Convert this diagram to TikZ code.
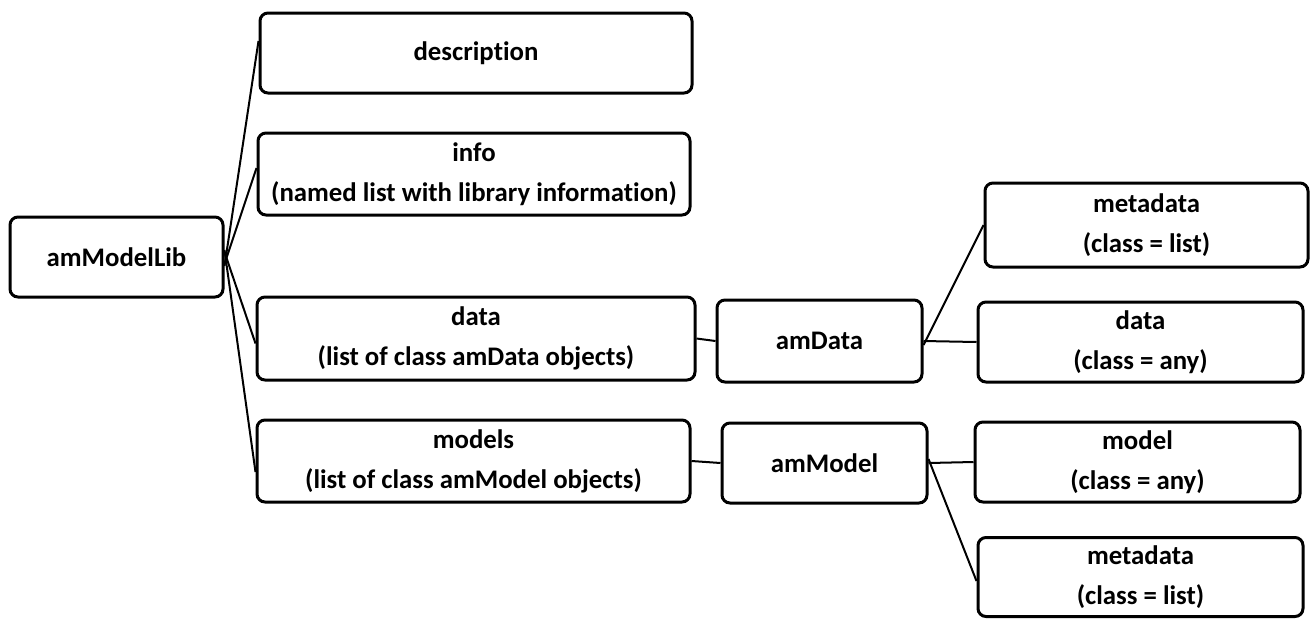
\documentclass[tikz,border=0pt]{standalone}
\usepackage{fontspec}
\setmainfont[Ligatures=NoCommon]{Carlito}
\tikzset{
	libbox/.style={
		draw, rounded corners=4pt, line width=1.5pt, inner sep=0pt,
		align=center, font=\fontsize{13.4}{20}\selectfont\bfseries},
	link/.style={line width=1pt}
}

\begin{document}
\begin{tikzpicture}[x=0.5pt,y=0.5pt,yscale=-1,xscale=1]
\path (0,0) rectangle (1314,618); %set diagram to the size of the picture

% left column
\node[libbox, minimum width=106.5pt, minimum height=40pt] (lib) at (116.5,257) {amModelLib};

% middle column
\node[libbox, minimum width=216pt, minimum height=40pt] (desc) at (476,53) {description};
\node[libbox, minimum width=216pt, minimum height=41pt] (info) at (474,174) {info\\(named list with library information)};
\node[libbox, minimum width=219pt, minimum height=41.5pt] (data) at (476,338.5) {data\\(list of class amData objects)};
\node[libbox, minimum width=216.5pt, minimum height=41pt] (models) at (473.5,461) {models\\(list of class amModel objects)};

\node[libbox, minimum width=102.5pt, minimum height=41pt] (amdata) at (819.5,341) {amData};
\node[libbox, minimum width=102.5pt, minimum height=40pt] (ammodel) at (824.5,463) {amModel};

% right column
\node[libbox, minimum width=161.5pt, minimum height=42pt] (meta1) at (1146.5,225) {metadata\\(class = list)};
\node[libbox, minimum width=162.5pt, minimum height=40pt] (datar) at (1140.5,342) {data\\(class = any)};
\node[libbox, minimum width=162.5pt, minimum height=40pt] (model) at (1137.5,462) {model\\(class = any)};
\node[libbox, minimum width=162.5pt, minimum height=39.5pt] (meta2) at (1140.5,577) {metadata\\(class = list)};

% connectors
\draw[link] ([yshift=4.5pt]lib.east) -- ([yshift=-6pt]desc.west);
\draw[link] ([yshift=3.5pt]lib.east) -- ([yshift=-3pt]info.west);
\draw[link] ([yshift=-2.5pt]lib.east) -- ([yshift=2.5pt]data.west);
\draw[link] ([yshift=-3.5pt]lib.east) -- ([yshift=5.5pt]models.west);

\draw[link] (data.east) -- (amdata.west);
\draw[link] ([yshift=2pt]amdata.east) -- (meta1.west);
\draw[link] (amdata.east) -- (datar.west);

\draw[link] (models.east) -- (ammodel.west);
\draw[link] (ammodel.east) -- (model.west);
\draw[link] ([yshift=-2pt]ammodel.east) -- ([yshift=2pt]meta2.west);

\end{tikzpicture}
\end{document}
